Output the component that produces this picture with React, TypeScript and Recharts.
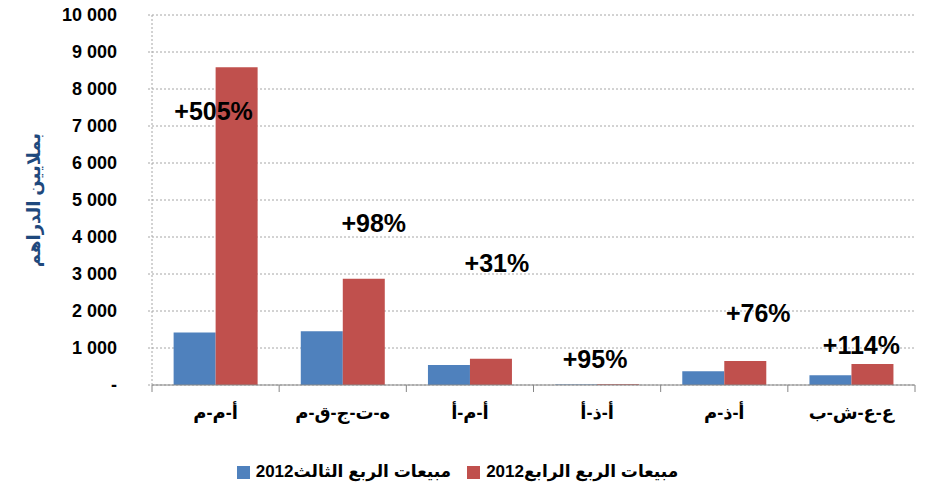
import { Bar, CartesianGrid, ComposedChart, LabelList, Legend, Line, XAxis, YAxis } from "recharts";

const categories = ["أ-م-م", "ه-ت-ج-ق-م", "أ-م-أ", "أ-ذ-أ", "أ-ذ-م", "ع-ع-ش-ب"];
const q3Sales = [1420, 1450, 540, 12, 370, 265];
const q4Sales = [8590, 2870, 707, 23, 650, 567];
const growthLabels = ["+505%", "+98%", "+31%", "+95%", "+76%", "+114%"];
const growthLevels = [7400, 4380, 3300, 700, 1950, 1080];
const yTicks = [0, 1000, 2000, 3000, 4000, 5000, 6000, 7000, 8000, 9000, 10000];

const q3Name = "مبيعات الربع الثالث2012";
const q4Name = "مبيعات الربع الرابع2012";
const yTitle = "بملايين الدراهم";

// horizontal nudges for the growth boxes (px)
const growthShift = [-2, 31, 27, -2, 34, 10];

const FONT = '"Liberation Sans", Arial, "DejaVu Sans", sans-serif';
const BLUE = "#4F81BD";
const RED = "#C0504D";

const data = categories.map((name, i) => ({
  name,
  q3: q3Sales[i],
  q4: q4Sales[i],
  level: growthLevels[i],
  growth: growthLabels[i]
}));

const formatTick = (v: number) => (v === 0 ? "-" : v.toLocaleString("en-US").replace(/,/g, " "));

const XTick = (props: any) => {
  const { x, y, payload, index } = props;
  const half = payload?.offset ?? 63.6;
  return (
    <g>
      <line x1={x - half} x2={x - half} y1={y} y2={y + 7} stroke="#868686" />
      {index === categories.length - 1 && (
        <line x1={x + half} x2={x + half} y1={y} y2={y + 7} stroke="#868686" />
      )}
      <text x={x} y={y + 28} textAnchor="middle" dominantBaseline="central" fontFamily={FONT} fontWeight="bold" fontSize={18} fill="#000">
        {payload.value}
      </text>
    </g>
  );
};

const GrowthLabel = (props: any) => {
  const { x, y, index } = props;
  return (
    <text x={x + growthShift[index]} y={y} textAnchor="middle" dominantBaseline="central" fontFamily={FONT} fontWeight="bold" fontSize={25} fill="#000">
      {growthLabels[index]}
    </text>
  );
};

const LegendContent = () => (
  <div style={{ height: 59, display: "flex", justifyContent: "center", alignItems: "flex-end", fontFamily: FONT, fontWeight: "bold", fontSize: 17, color: "#000", boxSizing: "border-box", paddingBottom: 2 }}>
    <span style={{ width: 13, height: 13, background: BLUE, display: "inline-block", marginRight: 6, marginBottom: 3 }} />
    <span style={{ marginRight: 16 }}>{q3Name}</span>
    <span style={{ width: 13, height: 13, background: RED, display: "inline-block", marginRight: 6, marginBottom: 3 }} />
    <span>{q4Name}</span>
  </div>
);

export default function App() {
  return (
    <div style={{ position: "absolute", left: 0, top: 0, width: 930, height: 489, background: "#fff" }}>
      <ComposedChart
        width={930}
        height={489}
        data={data}
        margin={{ top: 15, right: 15, left: 0, bottom: 5 }}
        barCategoryGap="17%"
        barGap={0}
      >
        <CartesianGrid vertical={false} stroke="#A6A6A6" strokeDasharray="2 2" />
        <XAxis
          dataKey="name"
          axisLine={{ stroke: "#868686" }}
          tickLine={false}
          tickSize={0}
          tickMargin={0}
          height={40}
          interval={0}
          tick={<XTick />}
        />
        <YAxis
          width={152}
          domain={[0, 10000]}
          ticks={yTicks}
          interval={0}
          tickFormatter={formatTick}
          axisLine={{ stroke: "#A6A6A6", strokeDasharray: "2 2" }}
          tickLine={{ stroke: "#A6A6A6", strokeDasharray: "2 2" }}
          tickSize={4}
          tickMargin={31}
          tick={{ fill: "#000", fontSize: 18, fontWeight: "bold", fontFamily: FONT }}
          label={{
            value: yTitle,
            angle: -90,
            position: "insideLeft",
            offset: 34,
            style: { textAnchor: "middle", fill: "#1F497D", fontWeight: "bold", fontSize: 18, fontFamily: FONT }
          }}
        />
        <Legend verticalAlign="bottom" height={59} content={<LegendContent />} />
        <Bar dataKey="q3" name={q3Name} fill={BLUE} isAnimationActive={false} />
        <Bar dataKey="q4" name={q4Name} fill={RED} isAnimationActive={false} />
        <Line dataKey="level" stroke="none" dot={false} activeDot={false} legendType="none" isAnimationActive={false}>
          <LabelList dataKey="growth" content={<GrowthLabel />} />
        </Line>
      </ComposedChart>
    </div>
  );
}
